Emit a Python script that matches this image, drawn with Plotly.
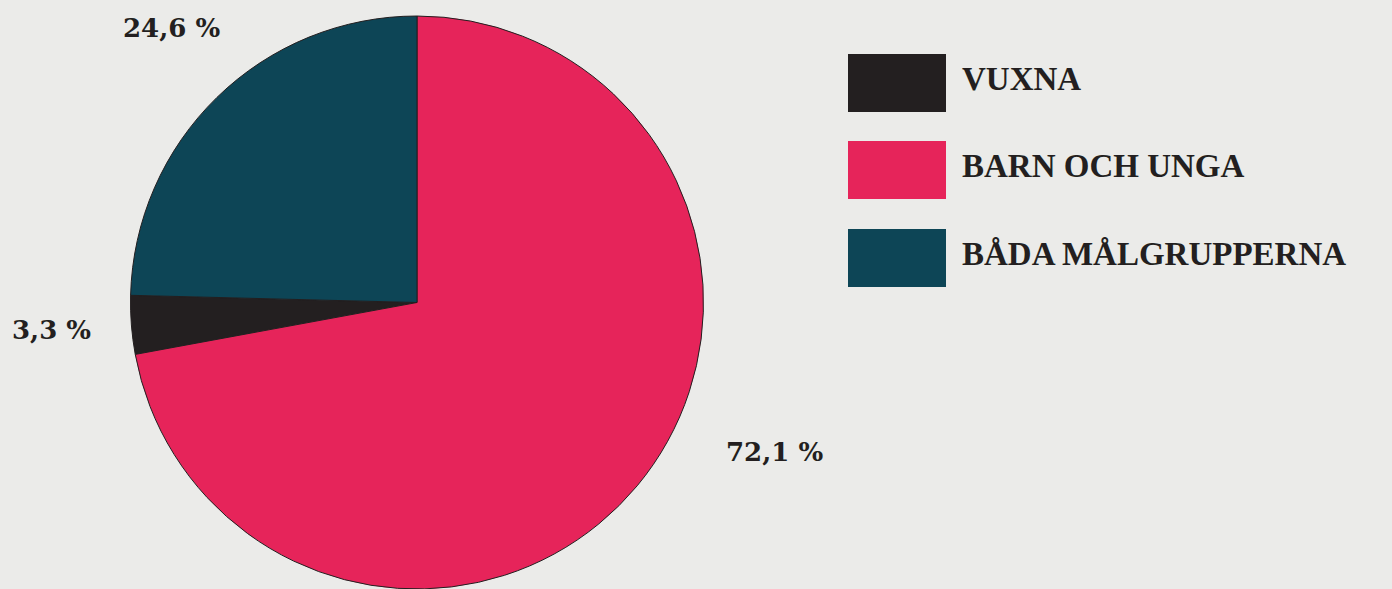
import plotly.graph_objects as go

# Data
categories = ["VUXNA", "BARN OCH UNGA", "BÅDA MÅLGRUPPERNA"]
shares = [3.3, 72.1, 24.6]
slice_colors = ["#231f20", "#e6245a", "#0d4556"]
label_texts = ["3,3 %", "72,1 %", "24,6 %"]

W, H = 1392, 589
BG = "#ebebe9"

fig = go.Figure()
fig.add_trace(go.Pie(
    labels=categories,
    values=shares,
    sort=False,
    direction="counterclockwise",
    rotation=360 * shares[1] / sum(shares),
    marker=dict(colors=slice_colors, line=dict(color="#231f20", width=1)),
    textinfo="none",
    hoverinfo="label+percent",
    showlegend=False,
    domain=dict(x=[130.5 / W, 703.5 / W], y=[0.0, 1 - 16 / H]),
))

# Value labels (positions in pixels of the page)
label_pos = [(51.5, 330), (774, 452), (171.5, 28)]
annotations = []
for txt, (px, py) in zip(label_texts, label_pos):
    annotations.append(dict(
        text=txt, x=px / W, y=1 - py / H, xref="paper", yref="paper",
        xanchor="center", yanchor="middle", showarrow=False,
        font=dict(family="DejaVu Serif", size=26, color="#231f20", weight="bold"),
    ))

# Custom legend: big swatches + labels
shapes = []
swatch_top = [54, 141, 229]
swatch_h = 58
for cat, col, top in zip(categories, slice_colors, swatch_top):
    shapes.append(dict(
        type="rect", xref="paper", yref="paper",
        x0=848 / W, x1=946 / W, y0=1 - (top + swatch_h) / H, y1=1 - top / H,
        fillcolor=col, line=dict(width=0), layer="above",
    ))
    annotations.append(dict(
        text=cat, x=960 / W, y=1 - (top + swatch_h / 2 - 4) / H,
        xref="paper", yref="paper", xanchor="left", yanchor="middle",
        showarrow=False,
        font=dict(family="Liberation Serif", size=33, color="#231f20", weight="bold"),
    ))

fig.update_layout(
    width=W, height=H,
    margin=dict(l=0, r=0, t=0, b=0),
    paper_bgcolor=BG, plot_bgcolor=BG,
    annotations=annotations,
    shapes=shapes,
)

fig.write_html(
    "out.html",
    config={"displayModeBar": False},
    post_script="document.body.style.margin='0';document.body.style.padding='0';"
                "document.body.style.overflow='hidden';document.body.style.background='%s';" % BG,
)
